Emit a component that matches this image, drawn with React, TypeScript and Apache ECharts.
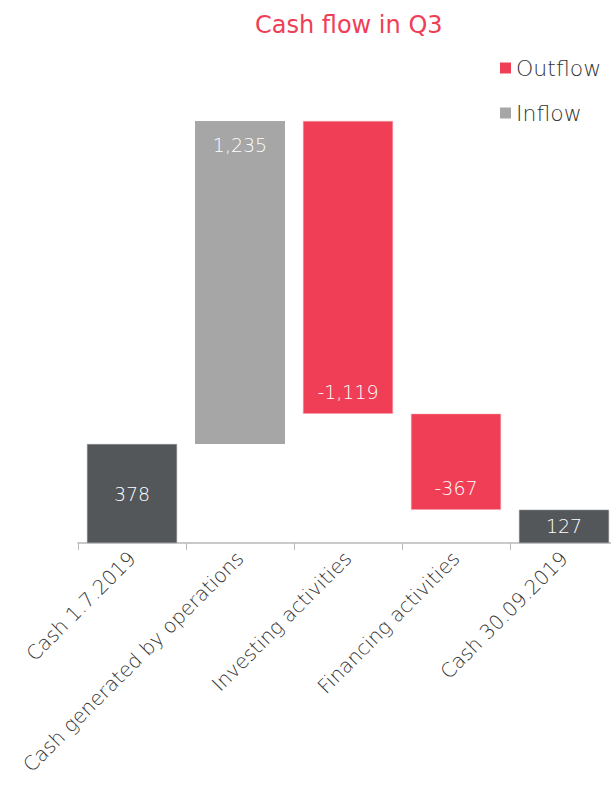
import React, { useEffect, useRef } from "react";
import * as echarts from "echarts";

const categories = [
  "Cash 1.7.2019",
  "Cash generated by operations",
  "Investing activities",
  "Financing activities",
  "Cash 30.09.2019",
];
// kind: cash (absolute), inflow, outflow
const kinds = ["cash", "inflow", "outflow", "outflow", "cash"];
const values = [378, 1235, -1119, -367, 127];

const RED = "#ef3e56";
const GRAY = "#a6a6a6";
const DARK = "#54575a";
const FONT = "'DejaVu Sans', Lato, sans-serif";
const W = 200 as any;

function fmt(v: number) {
  return v.toLocaleString("en-US");
}

export default function App() {
  const ref = useRef<HTMLDivElement>(null);
  useEffect(() => {
    if (!ref.current) return;
    const chart = echarts.init(ref.current, undefined, { renderer: "svg" });

    const base: (number | string)[] = [];
    const cash: (number | string)[] = [];
    const inflow: (number | string)[] = [];
    const outflow: (number | string)[] = [];
    let running = 0;
    let maxVal = 0;
    values.forEach((v, i) => {
      const k = kinds[i];
      if (k === "cash") {
        base.push(0);
        cash.push(v);
        inflow.push("-");
        outflow.push("-");
        running = v;
      } else if (k === "inflow") {
        base.push(running);
        cash.push("-");
        inflow.push(v);
        outflow.push("-");
        running += v;
      } else {
        running += v;
        base.push(running);
        cash.push("-");
        inflow.push("-");
        outflow.push(-v);
      }
      maxVal = Math.max(maxVal, running);
    });

    const labelBase = {
      show: true,
      color: "#ffffff",
      fontSize: 19,
      fontFamily: FONT,
      fontWeight: W,
    };

    chart.setOption({
      animation: false,
      title: {
        text: "Cash flow in Q3",
        left: 250,
        top: 8,
        textStyle: { color: RED, fontSize: 24, fontWeight: "normal", fontFamily: FONT },
      },
      legend: {
        orient: "vertical",
        left: 495,
        top: 52,
        itemWidth: 11,
        itemHeight: 11,
        itemGap: 23,
        icon: "rect",
        data: [
          { name: "Outflow", itemStyle: { color: RED, borderWidth: 0 } },
          { name: "Inflow", itemStyle: { color: GRAY, borderWidth: 0 } },
        ],
        textStyle: { color: "#333", fontSize: 22, fontFamily: FONT, fontWeight: W, padding: [0, 0, 0, 0] },
      },
      grid: { left: 78, top: 121, bottom: 244, width: 540, outerBoundsMode: "none" },
      xAxis: {
        type: "category",
        data: categories,
        axisLine: { lineStyle: { color: "#b8b8b8", width: 1.5 } },
        axisTick: { show: true, length: 7, lineStyle: { color: "#b8b8b8" } },
        axisLabel: {
          rotate: 45,
          interval: 0,
          color: "#333",
          fontSize: 20,
          fontFamily: FONT,
          fontWeight: W,
          margin: 12,
        },
      },
      yAxis: { type: "value", min: 0, max: maxVal, show: false },
      series: [
        {
          name: "base",
          type: "bar",
          stack: "w",
          data: base,
          barWidth: 90,
          itemStyle: { color: "transparent" },
          silent: true,
        },
        {
          name: "Cash",
          type: "bar",
          stack: "w",
          data: cash,
          barWidth: 90,
          itemStyle: { color: DARK, borderColor: "#8a8c8e", borderWidth: 0.5 },
          label: { ...labelBase, position: "inside", formatter: (p: any) => fmt(p.value) },
        },
        {
          name: "Inflow",
          type: "bar",
          stack: "w",
          data: inflow,
          barWidth: 90,
          itemStyle: { color: GRAY },
          label: {
            ...labelBase,
            position: "insideTop",
            distance: 14,
            formatter: (p: any) => fmt(p.value),
          },
        },
        {
          name: "Outflow",
          type: "bar",
          stack: "w",
          data: outflow,
          barWidth: 90,
          itemStyle: { color: RED, borderColor: "#f7a0ac", borderWidth: 0.5 },
          label: {
            ...labelBase,
            position: "insideBottom",
            distance: 12,
            formatter: (p: any) => fmt(-p.value),
          },
        },
      ],
    });
    return () => chart.dispose();
  }, []);
  return (
    <div
      ref={ref}
      style={{ position: "fixed", left: 0, top: 0, width: 611, height: 787, background: "#fff" }}
    />
  );
}
